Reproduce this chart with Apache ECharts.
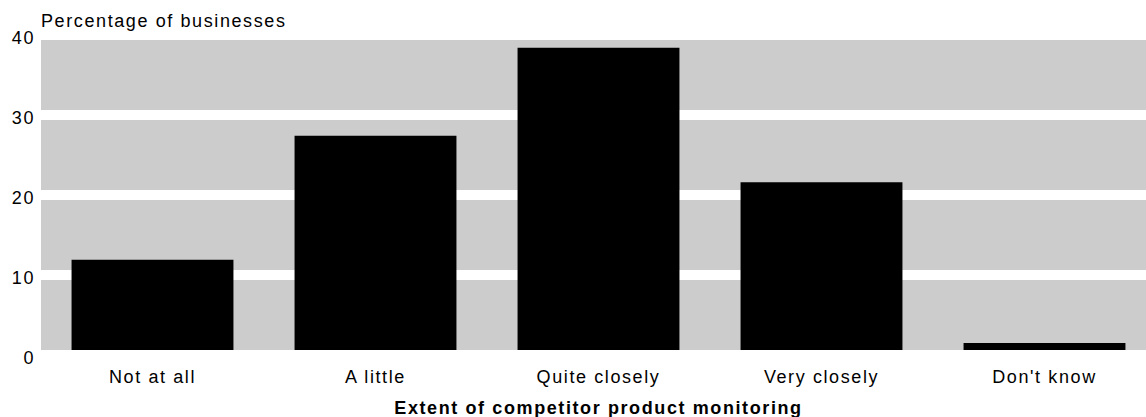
<!DOCTYPE html>
<html>
<head>
<meta charset="utf-8">
<title>Extent of competitor product monitoring</title>
<script src="https://cdn.jsdelivr.net/npm/echarts@6/dist/echarts.min.js"></script>
<style>
  html, body { margin: 0; padding: 0; background: #fff; overflow: hidden; }
  #chart { width: 1146px; height: 417px; }
  /* widen the glyph spacing of every chart label */
  #chart text { letter-spacing: 1.6px; }
</style>
</head>
<body>
<div id="chart"></div>
<script>
const categories = ['Not at all', 'A little', 'Quite closely', 'Very closely', "Don't know"];
const shares = [11.9, 27.4, 38.4, 21.6, 1.5];
const yMin = 0;
const yMax = 40;
const yStep = 10;
const yTitle = 'Percentage of businesses';
const xTitle = 'Extent of competitor product monitoring';

const FONT = '"Liberation Sans", Arial, sans-serif';

const chart = echarts.init(document.getElementById('chart'), null, { renderer: 'svg' });

chart.setOption({
  animation: false,
  backgroundColor: '#ffffff',
  // plot runs a little past the right edge of the page
  grid: {
    left: 41, top: 35, width: 1115, height: 320,
    containLabel: false,
    outerBoundsMode: 'none'
  },
  xAxis: {
    type: 'category',
    data: categories,
    z: 3,
    axisLine: { show: true, lineStyle: { color: '#ffffff', width: 10 } },
    axisTick: { show: false },
    axisLabel: { color: '#000', fontSize: 18, fontFamily: FONT, margin: 13 },
    name: xTitle,
    nameLocation: 'middle',
    nameGap: 44,
    nameTextStyle: { color: '#000', fontSize: 18, fontWeight: 'bold', fontFamily: FONT }
  },
  yAxis: {
    type: 'value',
    min: yMin,
    max: yMax,
    interval: yStep,
    axisLine: { show: false },
    axisTick: { show: false },
    axisLabel: {
      margin: 6,
      // tick numbers sit slightly below their gridlines
      formatter: (v) => '{n|' + v + '}',
      rich: { n: { color: '#000', fontSize: 18, fontFamily: FONT, padding: [5, 0, 0, 0] } }
    },
    splitArea: { show: true, areaStyle: { color: ['#cccccc', '#cccccc'] } },
    splitLine: { show: true, lineStyle: { color: '#ffffff', width: 10 } },
    name: yTitle,
    nameLocation: 'end',
    nameGap: 5,
    nameTextStyle: { color: '#000', fontSize: 18, fontFamily: FONT, align: 'left', verticalAlign: 'bottom' }
  },
  series: [{
    type: 'bar',
    data: shares,
    barCategoryGap: '27.4%',
    itemStyle: { color: '#000000' }
  }]
});
</script>
</body>
</html>
